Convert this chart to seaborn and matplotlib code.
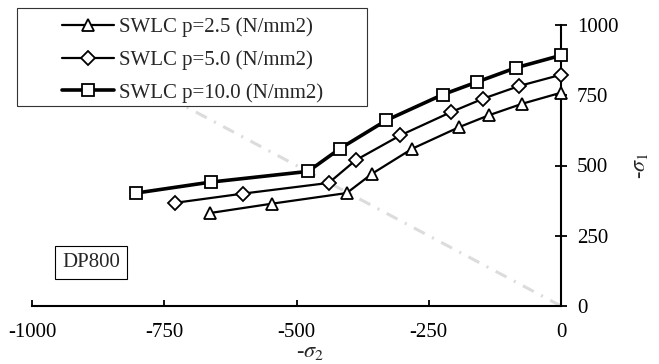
# DP800 forming limit curves, SWLC at three pressures
import numpy as np
import pandas as pd
import matplotlib
matplotlib.use('Agg')
import matplotlib.pyplot as plt
import seaborn as sns
from matplotlib.patches import Rectangle

# data
x_p25 = [-663, -547, -405, -357, -281, -192, -136, -73, 0]
y_p25 = [331, 364, 402, 471, 560, 637, 679, 720, 759]
x_p50 = [-730, -601, -439, -388, -304, -208, -147, -79, 0]
y_p50 = [367, 400, 438, 519, 607, 690, 738, 783, 823]
x_p100 = [-803, -662, -478, -418, -330, -224, -159, -85, 0]
y_p100 = [402, 441, 479, 560, 661, 752, 797, 848, 892]
ref_x = [0, -1000]
ref_y = [0, 1000]
x_ticks = [-1000, -750, -500, -250, 0]
y_ticks = [0, 250, 500, 750, 1000]
labels = ['SWLC p=2.5 (N/mm2)', 'SWLC p=5.0 (N/mm2)', 'SWLC p=10.0 (N/mm2)']

sns.set_style('white')
plt.rcParams['font.family'] = ['Liberation Serif', 'DejaVu Serif']
plt.rcParams['mathtext.fontset'] = 'stix'

fig = plt.figure(figsize=(6.59, 3.64), dpi=100)
ax = fig.add_axes([32/659, 1-306/364, (561-32)/659, (306-25)/364])

# grey y = -x reference line
ax.plot(ref_x, ref_y, color='#dcdcdc', lw=2.2, dashes=(4, 2.7, 0.7, 2.7), zorder=1)

series = [(x_p25, y_p25, '^', 1.6, 8.5, labels[0]),
          (x_p50, y_p50, 'D', 1.6, 7.5, labels[1]),
          (x_p100, y_p100, 's', 2.6, 8.5, labels[2])]
for xs, ys, mk, lw, ms, lab in series:
    df = pd.DataFrame({'x': xs, 'y': ys})
    sns.lineplot(data=df, x='x', y='y', ax=ax, color='black', lw=lw, marker=mk,
                 markersize=ms, markerfacecolor='white', markeredgecolor='black',
                 markeredgewidth=1.3, label=lab, clip_on=False, zorder=3)

ax.set_xlim(-1000, 0)
ax.set_ylim(0, 1000)
ax.set_xticks(x_ticks)
ax.set_yticks(y_ticks)
ax.set_xticklabels([str(v) for v in x_ticks], fontsize=15)
ax.set_yticklabels([str(v) for v in y_ticks], fontsize=15)

for s in ['top', 'left']:
    ax.spines[s].set_visible(False)
for s in ['bottom', 'right']:
    ax.spines[s].set_linewidth(1.5)
    ax.spines[s].set_color('black')
ax.yaxis.tick_right()
ax.tick_params(axis='x', bottom=True, top=False, direction='in', length=4.5, width=1.3,
               pad=12, colors='black')
ax.tick_params(axis='y', right=True, left=False, labelright=True, labelleft=False,
               direction='inout', length=9, width=1.3, pad=7, colors='black')

ax.set_xlabel(r'-$\sigma_2$', fontsize=16)
ax.xaxis.set_label_coords(0.526, -0.165)
ax.xaxis.label.set_va('center')
ax.yaxis.set_label_position('right')
ax.set_ylabel(r'-$\sigma_1$', fontsize=16, rotation=90)
ax.yaxis.set_label_coords((641-32)/529, 0.5)
ax.yaxis.label.set_va('center')

ax.text(-888, 155, 'DP800', fontsize=15, ha='center', va='center',
        bbox=dict(boxstyle='square,pad=0.35', fc='white', ec='black', lw=0.8))

# legend frame drawn by hand, it is wider than the content
ax.add_patch(Rectangle((17/659, 1-106/364), 350/659, 98/364, transform=fig.transFigure,
                       fc='white', ec='#333333', lw=0.8, clip_on=False, zorder=4))
leg = ax.legend(loc='upper left', bbox_to_anchor=(47/659, 1-3/364),
                bbox_transform=fig.transFigure, frameon=False, fontsize=15,
                borderpad=0.2, handlelength=2.5, handletextpad=0.25, labelspacing=0.62)
leg.set_zorder(5)

fig.savefig('out.png', dpi=100)
